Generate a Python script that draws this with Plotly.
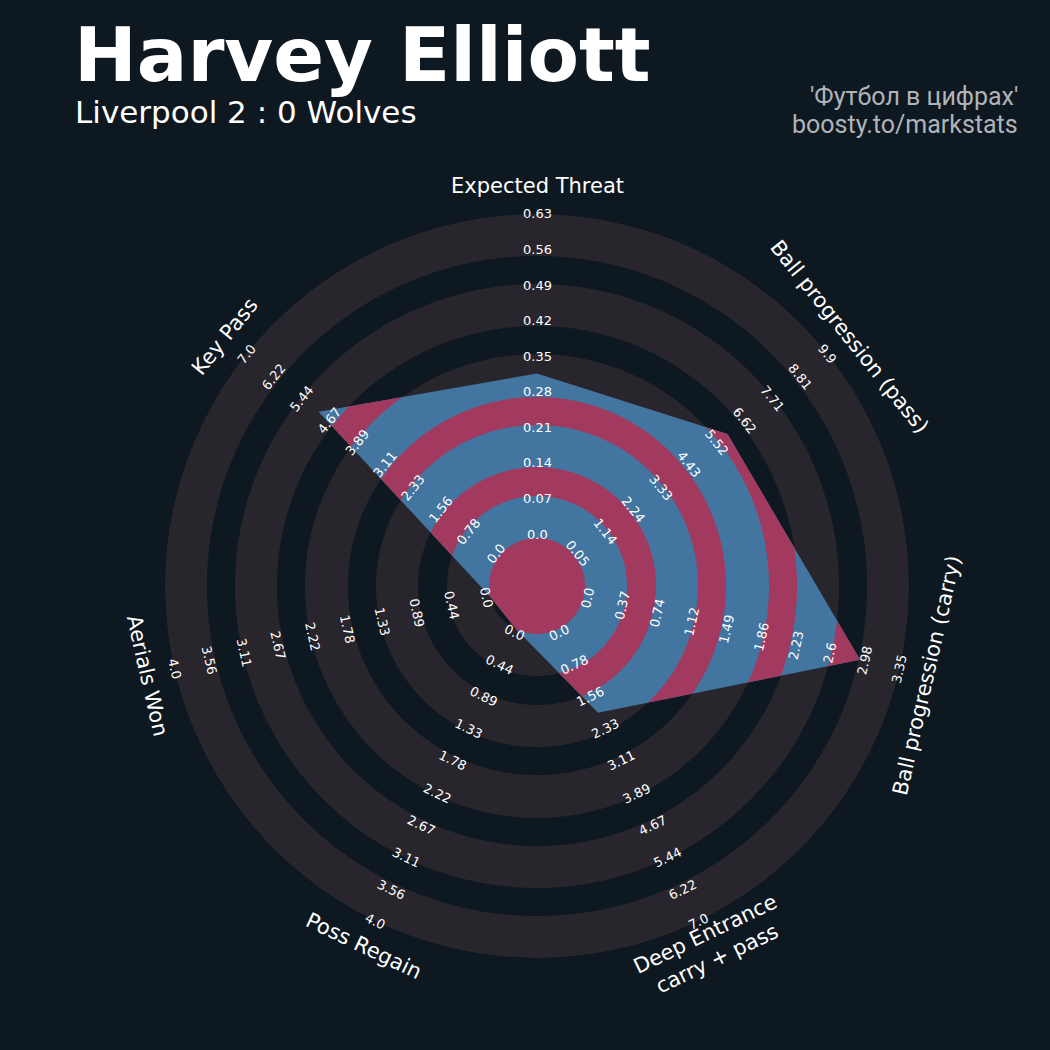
import numpy as np
import plotly.graph_objects as go

# radar data
params = ["Expected Threat", "Ball progression (pass)", "Ball progression (carry)",
          "Deep Entrance<br>carry + pass", "Poss Regain", "Aerials Won", "Key Pass"]
low = [0.0, 0.05, 0.0, 0.0, 0.0, 0.0, 0.0]
high = [0.63, 9.9, 3.35, 7.0, 4.0, 4.0, 7.0]
values = [0.32, 6.0, 2.93, 2.0, 0.0, 0.0, 5.0]

tick_labels = [
    ["0.0", "0.07", "0.14", "0.21", "0.28", "0.35", "0.42", "0.49", "0.56", "0.63"],
    ["0.05", "1.14", "2.24", "3.33", "4.43", "5.52", "6.62", "7.71", "8.81", "9.9"],
    ["0.0", "0.37", "0.74", "1.12", "1.49", "1.86", "2.23", "2.6", "2.98", "3.35"],
    ["0.0", "0.78", "1.56", "2.33", "3.11", "3.89", "4.67", "5.44", "6.22", "7.0"],
    ["0.0", "0.44", "0.89", "1.33", "1.78", "2.22", "2.67", "3.11", "3.56", "4.0"],
    ["0.0", "0.44", "0.89", "1.33", "1.78", "2.22", "2.67", "3.11", "3.56", "4.0"],
    ["0.0", "0.78", "1.56", "2.33", "3.11", "3.89", "4.67", "5.44", "6.22", "7.0"],
]

title = "Harvey Elliott"
subtitle = "Liverpool 2 : 0 Wolves"
credit = ["'Футбол в цифрах'", "boosty.to/markstats"]

# styling
BG = "#0e1820"
RING_GREY = "#28252c"
RADAR_BLUE = "#4275a0"
RING_PINK = "#a23a5f"
W = H = 1050
CX, CY = 537, 586          # centre of the radar in px (from top-left)
R_OUT = 372
CENTER_R = 48
grey_bands = [(48, 90), (119, 161), (189, 232), (260, 302), (330, 372)]
pink_bands = [(0, 48), (90, 119), (161, 189), (232, 260), (302, 330)]

n = len(params)
angles = np.arange(n) * 360.0 / n   # clockwise from top


def vertex_radius(v, lo, hi):
    return CENTER_R + (v - lo) / (hi - lo) * (R_OUT - CENTER_R)


vr = np.array([vertex_radius(v, lo, hi) for v, lo, hi in zip(values, low, high)])
vx = vr * np.sin(np.radians(angles))
vy = vr * np.cos(np.radians(angles))

theta = np.sort(np.unique(np.concatenate([np.linspace(0, 360, 1441), angles, [360.0]])))


def poly_radius(th):
    out = np.empty_like(th)
    step = 360.0 / n
    for k, t in enumerate(th):
        i = int((t % 360) // step) % n
        j = (i + 1) % n
        a = np.radians(t)
        d = np.array([np.sin(a), np.cos(a)])
        p1 = np.array([vx[i], vy[i]])
        e = np.array([vx[j], vy[j]]) - p1
        A = np.array([[d[0], -e[0]], [d[1], -e[1]]])
        out[k] = np.linalg.solve(A, p1)[0]
    return out


rp = poly_radius(theta)

fig = go.Figure()


def add_area(r, th, color):
    fig.add_trace(go.Scatterpolar(
        r=r, theta=th, mode="lines", fill="toself", fillcolor=color,
        line=dict(width=0, color=color), hoverinfo="skip", showlegend=False))


# grey rings (outside the radar)
for r1, r2 in grey_bands:
    add_area(np.concatenate([np.full_like(theta, r2), np.full_like(theta, r1)]),
             np.concatenate([theta, theta[::-1]]), RING_GREY)

# radar polygon
add_area(np.append(vr, vr[0]), np.append(angles, 360.0), RADAR_BLUE)

# rings clipped to the radar
for r1, r2 in pink_bands:
    outer = np.clip(np.minimum(r2, rp), r1, None)
    if r1 == 0:
        add_area(outer, theta, RING_PINK)
    else:
        add_area(np.concatenate([outer, np.full_like(theta, r1)]),
                 np.concatenate([theta, theta[::-1]]), RING_PINK)


def paper(r, ang):
    a = np.radians(ang)
    return (CX + r * np.sin(a)) / W, 1 - (CY - r * np.cos(a)) / H


def text_angle(ang):
    return ang if (ang <= 90 or ang >= 270) else ang - 180


annotations = []
label_r = np.linspace(52, R_OUT, 10)
for i in range(n):
    rot = text_angle(angles[i])
    rot = rot - 360 if rot > 180 else rot
    for r, lab in zip(label_r, tick_labels[i]):
        x, y = paper(r, angles[i])
        annotations.append(dict(x=x, y=y, xref="paper", yref="paper", text=lab,
                                showarrow=False, textangle=rot,
                                xanchor="center", yanchor="middle",
                                font=dict(family="DejaVu Sans", size=13, color="white")))
    x, y = paper(400, angles[i])
    annotations.append(dict(x=x, y=y, xref="paper", yref="paper", text=params[i],
                            showarrow=False, textangle=rot,
                            xanchor="center", yanchor="middle",
                            font=dict(family="DejaVu Sans", size=21, color="white")))

annotations += [
    dict(x=72 / W, y=1 - 55 / H, xref="paper", yref="paper", text="<b>%s</b>" % title,
         showarrow=False, xanchor="left", yanchor="middle",
         font=dict(family="DejaVu Sans", size=75, color="white")),
    dict(x=73 / W, y=1 - 112 / H, xref="paper", yref="paper", text=subtitle,
         showarrow=False, xanchor="left", yanchor="middle",
         font=dict(family="DejaVu Sans", size=31, color="white")),
    dict(x=1020 / W, y=1 - 97 / H, xref="paper", yref="paper", text=credit[0],
         showarrow=False, xanchor="right", yanchor="middle",
         font=dict(family="Roboto", size=25, color="#b0b4b8")),
    dict(x=1020 / W, y=1 - 124 / H, xref="paper", yref="paper", text=credit[1],
         showarrow=False, xanchor="right", yanchor="middle",
         font=dict(family="Roboto", size=25, color="#b0b4b8")),
]

fig.update_layout(
    width=W, height=H,
    margin=dict(l=0, r=0, t=0, b=0),
    paper_bgcolor=BG, plot_bgcolor=BG,
    polar=dict(
        domain=dict(x=[(CX - R_OUT) / W, (CX + R_OUT) / W],
                    y=[1 - (CY + R_OUT) / H, 1 - (CY - R_OUT) / H]),
        bgcolor=BG,
        radialaxis=dict(range=[0, R_OUT], visible=False, showgrid=False),
        angularaxis=dict(rotation=90, direction="clockwise", visible=False,
                         showgrid=False, showline=False),
    ),
    annotations=annotations,
    showlegend=False,
)

fig.write_html("out.html", config={"displayModeBar": False},
               post_script="document.body.style.margin='0';"
                           "document.body.style.background='%s';" % BG)
